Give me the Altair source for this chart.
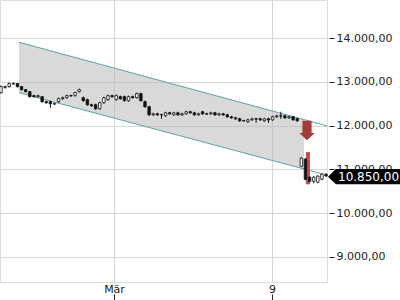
import altair as alt
import pandas as pd

# ---- data ----
opens = [12756, 12871, 12894, 12963, 12963, 12894, 12825, 12779, 12687, 12664,
         12664, 12549, 12549, 12502, 12549, 12618, 12641, 12687, 12687, 12779,
         12641, 12595, 12479, 12479, 12387, 12525, 12595, 12687, 12595, 12664,
         12664, 12572, 12664, 12641, 12733, 12549, 12433, 12249, 12272, 12249,
         12226, 12295, 12249, 12295, 12249, 12272, 12318, 12295, 12249, 12318,
         12272, 12272, 12295, 12249, 12272, 12249, 12203, 12180, 12157, 12111,
         12088, 12134, 12157, 12157, 12111, 12157, 12134, 12203, 12226, 12226,
         12180, 12203, 12157, 11074, 11235, 10820, 10728, 10705, 10774, 10890]
closes = [12894, 12894, 12963, 12955, 12894, 12825, 12779, 12664, 12664, 12687,
          12549, 12525, 12502, 12495, 12618, 12641, 12687, 12680, 12756, 12825,
          12572, 12479, 12456, 12387, 12525, 12641, 12687, 12664, 12687, 12618,
          12572, 12664, 12641, 12733, 12572, 12433, 12249, 12272, 12249, 12255,
          12295, 12272, 12295, 12249, 12272, 12318, 12295, 12249, 12272, 12272,
          12265, 12295, 12249, 12272, 12249, 12203, 12180, 12157, 12111, 12118,
          12134, 12157, 12150, 12134, 12157, 12134, 12203, 12226, 12220, 12180,
          12203, 12134, 12111, 11258, 10774, 10728, 10820, 10844, 10890, 10850]
highs = [12917, 12917, 12986, 12986, 12975, 12905, 12840, 12790, 12710, 12710,
         12675, 12572, 12572, 12525, 12641, 12664, 12710, 12710, 12779, 12848,
         12664, 12618, 12502, 12502, 12549, 12664, 12710, 12710, 12710, 12687,
         12687, 12687, 12687, 12756, 12756, 12572, 12456, 12295, 12295, 12272,
         12318, 12318, 12318, 12318, 12295, 12341, 12341, 12318, 12295, 12341,
         12295, 12318, 12318, 12295, 12295, 12272, 12226, 12203, 12180, 12134,
         12157, 12180, 12180, 12180, 12180, 12180, 12226, 12249, 12318, 12249,
         12226, 12226, 12180, 11281, 11258, 10843, 10843, 10867, 10913, 10913]
lows = [12733, 12848, 12871, 12940, 12871, 12802, 12756, 12641, 12641, 12641,
        12525, 12502, 12410, 12479, 12525, 12595, 12618, 12664, 12664, 12756,
        12549, 12456, 12433, 12364, 12364, 12502, 12572, 12641, 12572, 12595,
        12549, 12549, 12618, 12618, 12549, 12410, 12226, 12226, 12226, 12157,
        12203, 12249, 12226, 12226, 12226, 12249, 12272, 12226, 12226, 12249,
        12249, 12249, 12226, 12226, 12226, 12180, 12157, 12134, 12088, 12088,
        12065, 12111, 12065, 12111, 12088, 12065, 12111, 12180, 12157, 12157,
        12157, 12111, 12088, 11051, 10751, 10705, 10682, 10682, 10751, 10827]
times = pd.date_range("2020-02-24 06:40", periods=len(opens), freq="5h")

# trend channel (start / end of the shaded band, line ends)
chan_t = ["2020-02-25T04:34:00", "2020-03-10T14:53:00"]
chan_upper = [13908, 12148]
chan_lower = [12756, 11010]
upper_line_t = ["2020-02-25T04:34:00", "2020-03-11T19:00:00"]
upper_line_v = [13908, 11995]
lower_line_t = ["2020-02-25T04:34:00", "2020-03-11T12:46:00"]
lower_line_v = [12756, 10899]

signal_t = ["2020-03-10T19:45:00"]
signal_lo = [10659]
signal_hi = [11396]
arrow_t = ["2020-03-10T18:32:00"]
arrow_v = [11892]
last_price = [10850]
last_label = ["10.850,00"]

y_ticks = [9000, 10000, 11000, 12000, 13000, 14000]

# ---- tables ----
candles = pd.DataFrame({"t": times, "o": opens, "c": closes, "h": highs, "l": lows})
band = pd.DataFrame({"t": pd.to_datetime(chan_t), "u": chan_upper, "lo": chan_lower})
ul = pd.DataFrame({"t": pd.to_datetime(upper_line_t), "v": upper_line_v})
ll = pd.DataFrame({"t": pd.to_datetime(lower_line_t), "v": lower_line_v})
sig = pd.DataFrame({"t": pd.to_datetime(signal_t), "a": signal_lo, "b": signal_hi})
arr = pd.DataFrame({"t": pd.to_datetime(arrow_t), "v": arrow_v})
lab = pd.DataFrame({"v": last_price, "txt": last_label})

xscale = alt.Scale(domain=[alt.DateTime(year=2020, month=2, date=24, hours=5, minutes=28),
                           alt.DateTime(year=2020, month=3, date=11, hours=18, minutes=50)],
                   padding=0)
yscale = alt.Scale(domain=[8424, 14875], nice=False, zero=False, padding=0)

grid_col = "#d6d6d6"
font = "DejaVu Sans"

xaxis = alt.Axis(
    values=[alt.DateTime(year=2020, month=3, date=1), alt.DateTime(year=2020, month=3, date=9)],
    labelExpr="date(datum.value) == 1 ? 'Mär' : '' + date(datum.value)",
    grid=True, gridColor=grid_col, domain=False,
    tickSize=18, tickDash=[0, 12, 6], tickColor="#222",
    labelPadding=-17, labelFont=font, labelFontSize=11, labelColor="#222",
    title=None,
)
yaxis = alt.Axis(
    orient="right", values=y_ticks,
    labelExpr="replace(replace(replace(format(datum.value, ',.2f'), ',', '#'), '.', ','), '#', '.')",
    grid=True, gridColor=grid_col, domain=False,
    tickSize=7, tickDash=[0, 2, 5], tickColor="#222",
    labelPadding=2, labelFont=font, labelFontSize=11, labelColor="#222",
    title=None,
)

X = alt.X("t:T", scale=xscale, axis=xaxis)

area = alt.Chart(band).mark_area(color="#b4b4b4", opacity=0.5).encode(
    x=X, y=alt.Y("u:Q", scale=yscale, axis=yaxis), y2="lo:Q")
up_line = alt.Chart(ul).mark_line(color="#5ea3a8", strokeWidth=1).encode(
    x="t:T", y="v:Q")
lo_line = alt.Chart(ll).mark_line(color="#5ea3a8", strokeWidth=1).encode(
    x="t:T", y="v:Q")
red = alt.Chart(sig).mark_bar(size=4, color="#c0504d").encode(
    x="t:T", y="a:Q", y2="b:Q")
wicks = alt.Chart(candles).mark_rule(color="#111", strokeWidth=1).encode(
    x="t:T", y="l:Q", y2="h:Q")
bodies = alt.Chart(candles).mark_bar(size=2.5, stroke="#111", strokeWidth=0.8).encode(
    x="t:T", y="o:Q", y2="c:Q",
    fill=alt.condition("datum.c >= datum.o", alt.value("white"), alt.value("#111")))
arrow = alt.Chart(arr).mark_point(
    shape="M-0.47,-1L0.47,-1L0.47,0.26L0.79,0.26L0,1L-0.79,0.26L-0.47,0.26Z",
    size=380, filled=True, color="#a23c38", opacity=1).encode(x="t:T", y="v:Q")
tag = alt.Chart(lab).mark_point(
    shape="M-1,0.02L-0.78,-0.19L1,-0.19L1,0.23L-0.78,0.23Z",
    size=5184, filled=True, color="#000", opacity=1).encode(
    x=alt.value(364), y="v:Q")
tag_text = alt.Chart(lab).mark_text(
    align="left", baseline="middle", color="white", font=font, fontSize=12, dy=1).encode(
    x=alt.value(338), y="v:Q", text="txt:N")

chart = alt.layer(area, up_line, lo_line, red, wicks, bodies, arrow, tag, tag_text).properties(
    width=327, height=282,
    padding={"left": 0, "top": 0, "right": 73, "bottom": 18},
    autosize=alt.AutoSizeParams(type="none"),
).configure_view(stroke=None).configure(background="white")

chart.save("out.html", embed_options={"renderer": "svg", "actions": False})
